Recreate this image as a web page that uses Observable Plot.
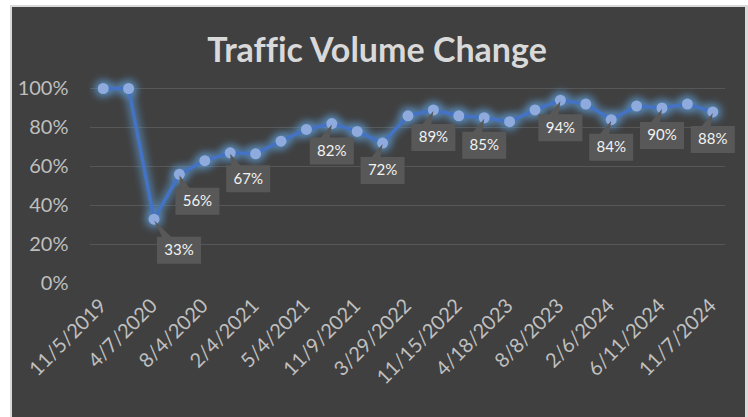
<!DOCTYPE html>
<html><head><meta charset="utf-8">
<script src="https://cdn.jsdelivr.net/npm/d3@7"></script>
<script src="https://cdn.jsdelivr.net/npm/@observablehq/plot@0.6"></script>
<style>
html,body{margin:0;padding:0;background:#fff;width:748px;height:417px;overflow:hidden;}
#frame{position:absolute;left:10px;top:5px;width:733px;height:420px;background:#404040;border-left:2px solid #d9d9d9;border-top:2px solid #d9d9d9;border-right:3px solid #d9d9d9;}
#title{position:absolute;left:0;top:32px;width:754px;text-align:center;font-family:Lato;font-weight:bold;font-size:34px;color:#d9d9d9;line-height:34px;font-variant-ligatures:none;}
#chart{position:absolute;left:0;top:0;}
</style></head><body>
<div id="frame"></div>
<div id="title">Traffic Volume Change</div>
<div id="chart"></div>
<script>
const values = [100, 100, 33, 56, 63, 67, 66.5, 73, 79, 82, 78, 72, 86, 89, 86, 85, 83, 89, 94, 92, 84, 91, 90, 92, 88];
const tickLabels = ["11/5/2019", "4/7/2020", "8/4/2020", "2/4/2021", "5/4/2021", "11/9/2021", "3/29/2022", "11/15/2022", "4/18/2023", "8/8/2023", "2/6/2024", "6/11/2024", "11/7/2024"];
const labelledIndex = [2, 3, 5, 9, 11, 13, 15, 18, 20, 22, 24];
const yTicks = [0, 20, 40, 60, 80, 100];
const gridTicks = [20, 40, 60, 80, 100];

const data = values.map((v, i) => ({i, v}));

function placement(i) {
  if (i === 2) return [25, 31];
  if (i === 3) return [18, 27];
  if (i === 5) return [18, 26];
  return [0, 27.5];
}
function callout(cx, cy) {
  const w = 44, h = 27, left = cx - w / 2, top = cy - h / 2;
  const b0 = left + (cx > 0 ? 5 : 11), b1 = b0 + 9;
  return {
    draw(ctx) {
      ctx.moveTo(left, top);
      ctx.lineTo(b0, top);
      ctx.lineTo(0, 1);
      ctx.lineTo(b1, top);
      ctx.lineTo(left + w, top);
      ctx.lineTo(left + w, top + h);
      ctx.lineTo(left, top + h);
      ctx.closePath();
    }
  };
}

const calloutMarks = labelledIndex.map(i => {
  const d = data[i];
  const [dx, dy] = placement(i);
  return [
    Plot.dot([d], {x: "i", y: "v", r: 1, symbol: callout(dx, dy), fill: "#585858", stroke: "none"}),
    Plot.text([d], {x: "i", y: "v", text: e => e.v + "%", dx, dy, fill: "#f2f2f2", fontSize: 15, fontFamily: "Lato"})
  ];
});

const GLOW = "#5b9bd6";
const chart = Plot.plot({
  width: 748,
  height: 417,
  marginLeft: 90,
  marginRight: 23,
  marginTop: 88,
  marginBottom: 134,
  style: {background: "transparent", color: "#bfbfbf", fontFamily: "Lato", fontSize: "20px"},
  x: {domain: [-0.5, values.length - 0.5], ticks: tickLabels.map((_, k) => k * 2), tickFormat: t => tickLabels[t / 2], tickRotate: -45, tickSize: 0, tickPadding: 19, label: null},
  y: {domain: [0, 100], ticks: yTicks, tickFormat: t => t + "%", tickSize: 0, tickPadding: 22, label: null},
  marks: [
    Plot.ruleY(gridTicks, {stroke: "#575757", strokeWidth: 1.2}),
    Plot.line(data, {x: "i", y: "v", stroke: GLOW, strokeWidth: 10, strokeOpacity: 0.55}),
    Plot.dot(data, {x: "i", y: "v", r: 9.5, fill: GLOW, fillOpacity: 0.55, stroke: "none"}),
    Plot.line(data, {x: "i", y: "v", stroke: "#4472c4", strokeWidth: 3.5}),
    Plot.dot(data, {x: "i", y: "v", r: 5.5, fill: "#8faadc", stroke: "none"}),
    ...calloutMarks.flat()
  ]
});

const svg = chart.tagName.toLowerCase() === "svg" ? chart : chart.querySelector("svg");
const NS = "http://www.w3.org/2000/svg";
const defs = document.createElementNS(NS, "defs");
const filt = document.createElementNS(NS, "filter");
filt.setAttribute("id", "glowblur");
filt.setAttribute("filterUnits", "userSpaceOnUse");
filt.setAttribute("x", "0"); filt.setAttribute("y", "0");
filt.setAttribute("width", "748"); filt.setAttribute("height", "417");
const blur = document.createElementNS(NS, "feGaussianBlur");
blur.setAttribute("in", "SourceGraphic");
blur.setAttribute("stdDeviation", "3.5");
filt.appendChild(blur);
defs.appendChild(filt);
svg.insertBefore(defs, svg.firstChild);
svg.querySelectorAll("g").forEach(g => {
  const s = (g.getAttribute("stroke") || "").toLowerCase();
  const f = (g.getAttribute("fill") || "").toLowerCase();
  if (s === GLOW || f === GLOW) g.setAttribute("filter", "url(#glowblur)");
});
svg.querySelectorAll("path,circle").forEach(el => {
  const s = (el.getAttribute("stroke") || "").toLowerCase();
  const f = (el.getAttribute("fill") || "").toLowerCase();
  if ((s === GLOW || f === GLOW) && !el.closest("[filter]")) el.setAttribute("filter", "url(#glowblur)");
});
document.getElementById("chart").appendChild(chart);
</script>
</body></html>
